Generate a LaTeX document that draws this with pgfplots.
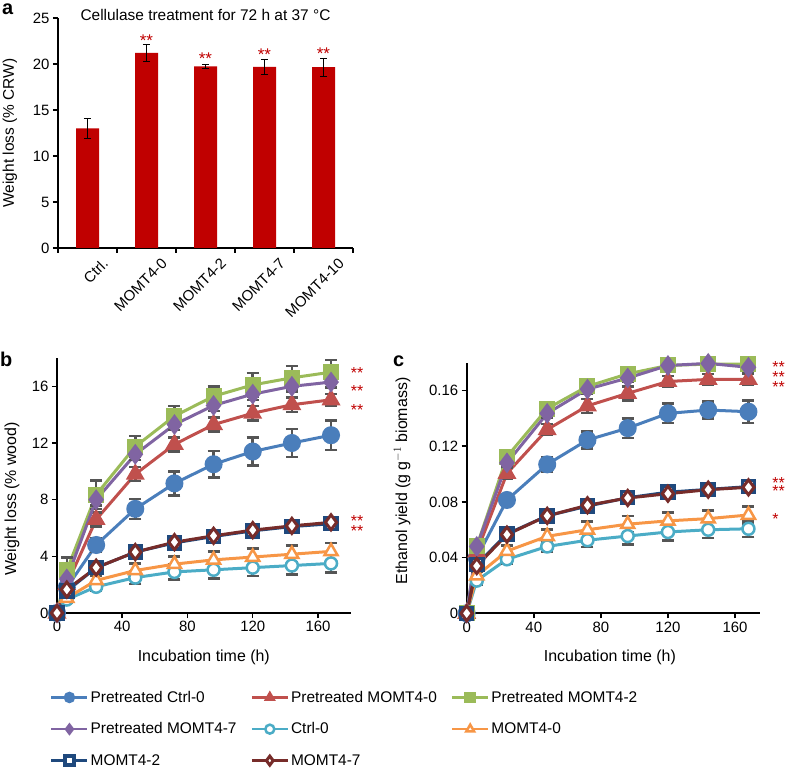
\documentclass[border=0pt]{standalone}
\usepackage{pgfplots}
\pgfplotsset{compat=1.18}
\usepackage{pgfplotstable}
\usepackage{fontspec}
\setmainfont{Liberation Sans}
\definecolor{cblue}{HTML}{4A7EBB}
\definecolor{cred}{HTML}{C0504D}
\definecolor{cgreen}{HTML}{9BBB59}
\definecolor{cpurple}{HTML}{8064A2}
\definecolor{ccyan}{HTML}{4BACC6}
\definecolor{corange}{HTML}{F79646}
\definecolor{cnavy}{HTML}{1F497D}
\definecolor{cdark}{HTML}{772C2A}
\definecolor{barred}{HTML}{C00000}
\definecolor{starred}{HTML}{C00000}
\definecolor{errgray}{HTML}{555555}

\pgfplotstableread{
t   bl    ble  rd    rde  gr    gre  pu    pue  cy    cye  or    ore  nv   nve  dk   dke
0   0     0    0     0    0     0    0     0    0     0    0     0    0    0    0    0
6   1.8   0.3  2.0   0.3  3.0   0.9  2.4   0.3  0.95  0.2  1.05  0.2  1.55 0.2  1.65 0.2
24  4.8   0.5  6.6   0.5  8.35  1.0  8.0   0.4  1.85  0.3  2.3   0.3  3.2  0.2  3.2  0.2
48  7.35  0.7  9.8   0.5  11.75 0.75 11.2  0.4  2.5   0.45 3.0   0.5  4.3  0.2  4.3  0.2
72  9.15  0.85 11.9  0.5  13.9  0.7  13.3  0.4  2.9   0.55 3.45  0.55 4.95 0.2  5.0  0.2
96  10.5  0.95 13.3  0.5  15.3  0.7  14.65 0.4  3.05  0.6  3.75  0.6  5.4  0.2  5.45 0.2
120 11.4  1.0  14.1  0.5  16.1  0.85 15.45 0.4  3.2   0.6  3.95  0.6  5.8  0.2  5.85 0.2
144 12.0  1.0  14.7  0.5  16.6  0.85 16.0  0.4  3.35  0.65 4.15  0.6  6.1  0.2  6.15 0.2
168 12.55 1.05 15.05 0.4  17.0  0.85 16.3  0.4  3.5   0.65 4.35  0.6  6.3  0.2  6.4  0.2
}\tabb

\pgfplotstableread{
t   bl     ble    rd     rde    gr     gre    pu     pue    cy     cye    or     ore    nv     nve    dk     dke
0   0      0      0      0      0      0      0      0      0      0      0      0      0      0      0      0
6   0.040  0.003  0.044  0.003  0.048  0.004  0.048  0.003  0.0235 0.003  0.027  0.003  0.035  0.002  0.034  0.002
24  0.0814 0.004  0.1005 0.004  0.1125 0.004  0.108  0.003  0.0388 0.003  0.0447 0.004  0.057  0.002  0.0565 0.002
48  0.107  0.005  0.132  0.004  0.147  0.004  0.1436 0.003  0.048  0.004  0.0553 0.005  0.070  0.002  0.070  0.002
72  0.1245 0.006  0.149  0.005  0.163  0.004  0.161  0.003  0.0525 0.005  0.060  0.006  0.077  0.002  0.0776 0.002
96  0.133  0.007  0.158  0.005  0.172  0.004  0.169  0.003  0.0555 0.006  0.064  0.006  0.083  0.002  0.0828 0.002
120 0.1436 0.007  0.1665 0.004  0.178  0.004  0.178  0.003  0.0584 0.006  0.0664 0.006  0.087  0.002  0.0859 0.002
144 0.146  0.006  0.168  0.004  0.179  0.004  0.1795 0.003  0.060  0.006  0.068  0.006  0.089  0.002  0.0888 0.002
168 0.1448 0.008  0.168  0.004  0.179  0.004  0.1767 0.003  0.0607 0.006  0.0706 0.006  0.091  0.002  0.0905 0.002
}\tabc

\tikzset{
 mystar/.style={text=starred, font=\fontsize{17}{17}\selectfont, inner sep=0pt, anchor=center, yshift=-3.6bp},
 mystarw/.style={text=starred, font=\fontsize{16}{16}\selectfont, inner sep=0pt, anchor=west, yshift=-3.4bp},
}

\pgfplotsset{
 base/.style={
   scale only axis, anchor=south west, clip=false,
   axis x line*=bottom, axis y line*=left,
   axis line style={line width=2bp, black},
   tick style={line width=1.5bp, black},
   major tick length=5bp, tick align=outside,
   tick label style={font=\fontsize{15}{18}\selectfont},
   label style={font=\fontsize{16}{19}\selectfont},
 },
 ser/.style={line width=3bp, error bars/.cd, y dir=both, y explicit,
   error bar style={errgray, line width=2.5bp},
   error mark options={errgray, rotate=90, mark size=6bp, line width=2.5bp}},
 pblue/.style={color=cblue, mark=*, mark size=7.5bp, mark options={solid, fill=cblue}},
 pred/.style={color=cred, mark=triangle*, mark size=8bp, mark options={solid, fill=cred}},
 pgreen/.style={color=cgreen, mark=square*, mark size=6.5bp, mark options={solid, fill=cgreen}},
 ppurple/.style={color=cpurple, mark=diamond*, mark size=8bp, mark options={solid, fill=cpurple}},
 pcyan/.style={color=ccyan, mark=*, mark size=6bp, mark options={solid, fill=white, line width=2.5bp}},
 porange/.style={color=corange, mark=triangle*, mark size=7.5bp, mark options={solid, fill=white, line width=2.5bp}},
 pnavy/.style={color=cnavy, mark=square*, mark size=6bp, mark options={solid, fill=white, line width=3.5bp}},
 pdark/.style={color=cdark, mark=diamond*, mark size=7.5bp, mark options={solid, fill=white, line width=3bp}},
}

\begin{document}
\begin{tikzpicture}
\useasboundingbox (0,0) rectangle (788bp,772bp);

% ---------- panel a ----------
\begin{axis}[base, at={(58bp,524bp)}, width=295bp, height=230bp,
  xmin=-0.5, xmax=4.5, ymin=0, ymax=25,
  ytick={0,5,10,15,20,25}, yticklabels={0,5,10,15,20,25},
  xtick={-0.5,0.5,1.5,2.5,3.5,4.5}, xticklabels={},
  extra x ticks={0,1,2,3,4},
  extra x tick labels={Ctrl.,MOMT4-0,MOMT4-2,MOMT4-7,MOMT4-10},
  extra x tick style={major tick length=0pt, tick label style={xshift=14bp, yshift=-9bp, rotate=45, anchor=north east, inner sep=0pt}},
  ylabel={Weight loss (\% CRW)},
  ylabel style={at={(axis description cs:-0.163,0.5)}, anchor=center, font=\fontsize{15.5}{18}\selectfont},
]
\addplot[ybar, bar width=23bp, fill=barred, draw=none,
  error bars/.cd, y dir=both, y explicit, error bar style={black, line width=1bp},
  error mark options={black, rotate=90, mark size=3.5bp, line width=1bp}]
  coordinates {(0,13.0) +- (0,1.05) (1,21.2) +- (0,0.9) (2,19.75) +- (0,0.2) (3,19.7) +- (0,0.8) (4,19.65) +- (0,1.0)};
\node[mystar] at (axis cs:1,22.9) {**};
\node[mystar] at (axis cs:2,21.0) {**};
\node[mystar] at (axis cs:3,21.45) {**};
\node[mystar] at (axis cs:4,21.55) {**};
\node[font=\fontsize{15.5}{18}\selectfont, anchor=base, yshift=-3bp] at (axis description cs:0.5,1) {Cellulase treatment for 72 h at 37 °C};
\end{axis}

% ---------- panel b ----------
\begin{axis}[base, at={(57bp,159bp)}, width=293.6bp, height=255bp,
  xmin=0, xmax=180, ymin=0, ymax=18,
  xtick={0,40,80,120,160}, xticklabels={0,40,80,120,160},
  ytick={0,4,8,12,16}, yticklabels={0,4,8,12,16},
  xlabel={Incubation time (h)},
  xlabel style={at={(axis description cs:0.5,-0.1725)}, anchor=center},
  ylabel={Weight loss (\% wood)},
  ylabel style={at={(axis description cs:-0.153,0.447)}, anchor=center},
  legend columns=3,
  legend cell align=left,
  legend style={at={(axis description cs:-0.034,-0.29)}, anchor=north west, draw=none, fill=none,
    font=\fontsize{15.5}{18}\selectfont, row sep=15bp,
    /tikz/every even column/.append style={column sep=12bp}},
  legend image code/.code={\draw[mark repeat=2, mark phase=2, #1, mark size=4.5bp, line width=2.5bp] plot coordinates {(0bp,0bp) (18bp,0bp) (36bp,0bp)};},
]
\addplot[pblue, ser] table[x=t, y=bl, y error=ble] {\tabb};
\addplot[pred, ser] table[x=t, y=rd, y error=rde] {\tabb};
\addplot[pgreen, ser] table[x=t, y=gr, y error=gre] {\tabb};
\addplot[ppurple, ser] table[x=t, y=pu, y error=pue] {\tabb};
\addplot[pcyan, ser] table[x=t, y=cy, y error=cye] {\tabb};
\addplot[porange, ser] table[x=t, y=or, y error=ore] {\tabb};
\addplot[pnavy, ser] table[x=t, y=nv, y error=nve] {\tabb};
\addplot[pdark, ser] table[x=t, y=dk, y error=dke] {\tabb};
\legend{Pretreated Ctrl-0, Pretreated MOMT4-0, Pretreated MOMT4-2, Pretreated MOMT4-7, Ctrl-0, MOMT4-0, MOMT4-2, MOMT4-7}
\node[mystarw] at (axis cs:180,17.2) {**};
\node[mystarw] at (axis cs:180,15.9) {**};
\node[mystarw] at (axis cs:180,14.6) {**};
\node[mystarw] at (axis cs:180,6.7) {**};
\node[mystarw] at (axis cs:180,6.0) {**};
\end{axis}

% ---------- panel c ----------
\begin{axis}[base, at={(466.7bp,158.7bp)}, width=293.5bp, height=250.6bp,
  xmin=0, xmax=175, ymin=0, ymax=0.18,
  xtick={0,40,80,120,160}, xticklabels={0,40,80,120,160},
  ytick={0,0.04,0.08,0.12,0.16}, yticklabels={0,0.04,0.08,0.12,0.16},
  xlabel={Incubation time (h)},
  xlabel style={at={(axis description cs:0.488,-0.1756)}, anchor=center},
  ylabel={Ethanol yield (g g$^{-1}$ biomass)},
  ylabel style={at={(axis description cs:-0.22,0.528)}, anchor=center},
]
\addplot[pblue, ser] table[x=t, y=bl, y error=ble] {\tabc};
\addplot[pred, ser] table[x=t, y=rd, y error=rde] {\tabc};
\addplot[pgreen, ser] table[x=t, y=gr, y error=gre] {\tabc};
\addplot[ppurple, ser] table[x=t, y=pu, y error=pue] {\tabc};
\addplot[pcyan, ser] table[x=t, y=cy, y error=cye] {\tabc};
\addplot[porange, ser] table[x=t, y=or, y error=ore] {\tabc};
\addplot[pnavy, ser] table[x=t, y=nv, y error=nve] {\tabc};
\addplot[pdark, ser] table[x=t, y=dk, y error=dke] {\tabc};
\node[mystarw, xshift=12bp] at (axis cs:175,0.179) {**};
\node[mystarw, xshift=12bp] at (axis cs:175,0.1722) {**};
\node[mystarw, xshift=12bp] at (axis cs:175,0.165) {**};
\node[mystarw, xshift=12bp] at (axis cs:175,0.096) {**};
\node[mystarw, xshift=12bp] at (axis cs:175,0.090) {**};
\node[mystarw, xshift=12bp] at (axis cs:175,0.0699) {*};
\end{axis}

% panel letters
\node[font=\bfseries\fontsize{20}{20}\selectfont, anchor=base west, inner sep=0pt] at (2bp,757bp) {a};
\node[font=\bfseries\fontsize{20}{20}\selectfont, anchor=base west, inner sep=0pt] at (0bp,405bp) {b};
\node[font=\bfseries\fontsize{20}{20}\selectfont, anchor=base west, inner sep=0pt] at (393bp,405bp) {c};
\end{tikzpicture}
\end{document}
